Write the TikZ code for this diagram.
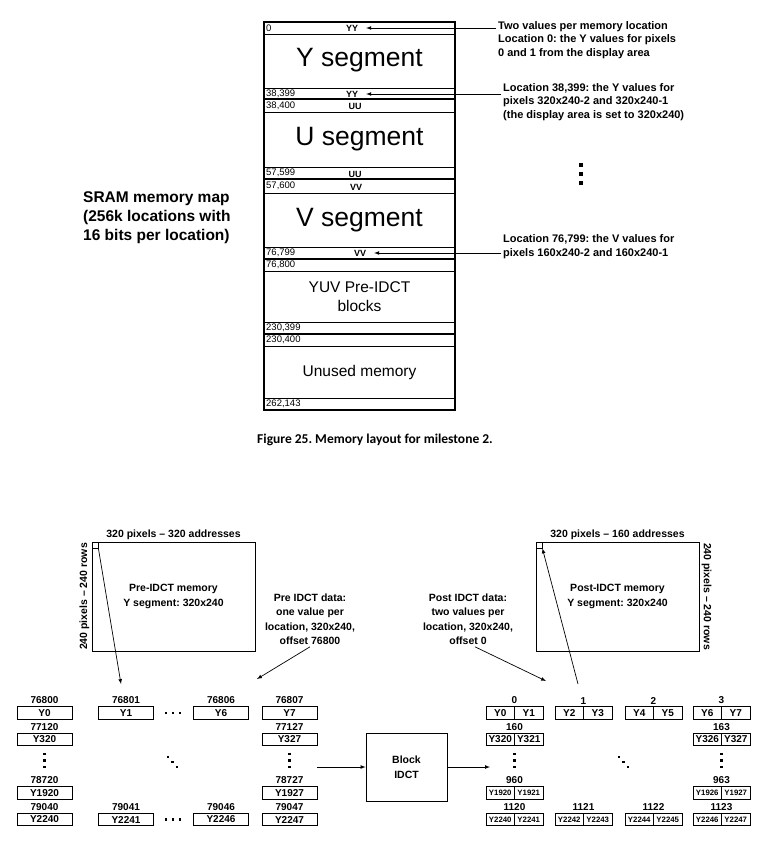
\documentclass[tikz,border=0pt]{standalone}
\usepackage{fontspec}
\setmainfont{Liberation Sans}
\newfontfamily\capfont{Carlito}
\usetikzlibrary{arrows, positioning}
\frenchspacing

\tikzset{
  seg/.style={font=\fontsize{26.5}{30}\selectfont},
  segsm/.style={align=center, font=\fontsize{15.5}{19.5}\selectfont},
  adr/.style={anchor=west, inner sep=1pt, font=\fontsize{9.5}{10}\selectfont},
  pair/.style={inner sep=1pt, font=\bfseries\fontsize{9}{10}\selectfont},
  note/.style={anchor=north west, align=left, inner sep=2pt, font=\bfseries\fontsize{11}{13.5}\selectfont},
  txt/.style={align=center, inner sep=2pt, font=\bfseries\fontsize{10.5}{14.5}\selectfont},
  box/.style={draw, line width=0.8pt},
  cell/.style={box, minimum width=55pt, minimum height=12.5pt, inner sep=0pt, font=\bfseries\fontsize{10}{12}\selectfont},
  half/.style={cell, minimum width=28.5pt, outer sep=0pt},
  halfsm/.style={half, font=\bfseries\fontsize{7.8}{10}\selectfont},
  lbl/.style={inner sep=0pt, font=\bfseries\fontsize{10}{12}\selectfont},
  arr/.style={-latex, line width=0.7pt}
}

\begin{document}
\begin{tikzpicture}[x=1pt, y=-1pt]
\useasboundingbox (0,0) rectangle (763,849);

% memory map
\draw[line width=1.6pt] (264,22) rectangle (455,410);
\foreach \y in {34,88,112,167,193,247,271,322,346,398}
  \draw[line width=0.6pt] (264,\y) -- (455,\y);
\foreach \y in {99,179,259,334}
  \draw[line width=1.6pt] (264,\y) -- (455,\y);
\foreach \y/\t in {28/0, 93.5/{38,399}, 105.5/{38,400}, 173/{57,599}, 186/{57,600},
  253/{76,799}, 265/{76,800}, 328/{230,399}, 340/{230,400}, 404/{262,143}}
  \node[adr] at (265,\y) {\t};
\node[pair] (yy0) at (352,28) {YY};
\node[pair] (yy1) at (352,94) {YY};
\node[pair] (uu0) at (355,106.5) {UU};
\node[pair] (uu1) at (355,174) {UU};
\node[pair] (vv0) at (356,187) {VV};
\node[pair] (vv1) at (360,253) {VV};
\node[seg] (ys) at (359.5,60) {Y segment};
\node[seg] (us) at (359.5,139.5) {U segment};
\node[seg] (vs) at (359.5,220) {V segment};
\node[segsm] (yuv) at (359.5,296.5) {YUV Pre-IDCT\\blocks};
\node[segsm] (un) at (359.5,372) {Unused memory};

\node[anchor=north west, align=left, inner sep=0pt, font=\bfseries\fontsize{15.5}{19}\selectfont] (sram) at (83,191.5)
  {SRAM memory map\\(256k locations with\\16 bits per location)};

\node[note] (n0) at (496,19) {Two values per memory location\\Location 0: the Y values for pixels\\0 and 1 from the display area};
\node[note] (n1) at (501,81) {Location 38,399: the Y values for\\pixels 320x240-2 and 320x240-1\\(the display area is set to 320x240)};
\node[note] (n2) at (501,232.5) {Location 76,799: the V values for\\pixels 160x240-2 and 160x240-1};
\draw[arr] (n0.west |- yy0) -- ([xshift=7pt]yy0.east);
\draw[arr] (n1.west |- yy1) -- ([xshift=7pt]yy1.east);
\draw[arr] (n2.west |- vv1) -- ([xshift=7pt]vv1.east);
\foreach \y in {165,174,183}
  \fill (579.3,\y-1.7) rectangle ++(3.4,3.4);

\node[font=\capfont\bfseries\fontsize{13.5}{15}\selectfont] (cap) at (375,440) {Figure 25. Memory layout for milestone 2.};

% frame buffers
\node[box, minimum width=163pt, minimum height=109pt, txt] (pre) at (173.5,596.5) {Pre-IDCT memory\\Y segment: 320x240};
\node[box, minimum width=163pt, minimum height=109pt, txt] (post) at (617.5,596.5) {Post-IDCT memory\\Y segment: 320x240};
\node[box, minimum size=6pt, inner sep=0pt, anchor=north west] (sq1) at (pre.north west) {};
\node[box, minimum size=6pt, inner sep=0pt, anchor=north west] (sq2) at (post.north west) {};
\node[txt, above=0pt of pre] {320 pixels -- 320 addresses};
\node[txt, above=0pt of post] {320 pixels -- 160 addresses};
\node[txt, rotate=90, anchor=south] at (pre.west) {240 pixels -- 240 rows};
\node[txt, rotate=-90, anchor=south] at (post.east) {240 pixels -- 240 rows};

\node[txt] (pd) at (310,619) {Pre IDCT data:\\one value per\\location, 320x240,\\offset 76800};
\node[txt] (qd) at (468,619) {Post IDCT data:\\two values per\\location, 320x240,\\offset 0};
\coordinate (pa) at (257,679);
\coordinate (qa) at (546,681);
\coordinate (s1) at (121,684);
\coordinate (s2) at (578,684);
\draw[arr] (pd.south) -- (pa);
\draw[arr] ([xshift=7pt]qd.south) -- (qa);
\draw[arr] (sq1.south east) -- (s1);
\draw[arr] (s2) -- (sq2.south east);

% pre-IDCT values
\foreach \x/\y/\a/\v in {44.5/713/76800/Y0, 44.5/739.5/77120/Y320, 44.5/793/78720/Y1920, 44.5/819.5/79040/Y2240,
  126/713/76801/Y1, 126/819.5/79041/Y2241, 221/713/76806/Y6, 221/819.5/79046/Y2246,
  289.5/713/76807/Y7, 289.5/739.5/77127/Y327, 289.5/793/78727/Y1927, 289.5/819.5/79047/Y2247}
{
  \node[cell] (p\a) at (\x,\y) {\v};
  \node[lbl, above=2.5pt of p\a] {\a};
}

% post-IDCT values
\foreach \x/\y/\a/\u/\v in {514.5/713/0/Y0/Y1, 583.5/713/1/Y2/Y3, 653.5/713/2/Y4/Y5, 721.5/713/3/Y6/Y7,
  514.5/739.5/160/Y320/Y321, 721.5/739.5/163/Y326/Y327}
{
  \node[half, anchor=east] (l\a) at (\x,\y) {\u};
  \node[half, anchor=west] (r\a) at (\x,\y) {\v};
  \node[lbl, above=2.5pt of l\a.north east] {\a};
}
\foreach \x/\y/\a/\u/\v in {514.5/793/960/Y1920/Y1921, 721.5/793/963/Y1926/Y1927,
  514.5/819.5/1120/Y2240/Y2241, 583.5/819.5/1121/Y2242/Y2243, 653.5/819.5/1122/Y2244/Y2245, 721.5/819.5/1123/Y2246/Y2247}
{
  \node[halfsm, anchor=east] (l\a) at (\x,\y) {\u};
  \node[halfsm, anchor=west] (r\a) at (\x,\y) {\v};
  \node[lbl, above=2.5pt of l\a.north east] {\a};
}

\foreach \x/\y in {166/713, 173/713, 180/713, 166/819.5, 173/819.5, 180/819.5,
  44.5/754, 44.5/760.5, 44.5/767, 289.5/754, 289.5/760.5, 289.5/767,
  168/757, 172.5/762, 177/767,
  514.5/754, 514.5/760.5, 514.5/767, 721.5/754, 721.5/760.5, 721.5/767,
  619/757, 623.5/762, 628/767}
  \fill (\x-1.3,\y-1.3) rectangle ++(2.6,2.6);

\node[box, minimum width=81pt, minimum height=68pt, txt] (idct) at (406.5,767) {Block\\IDCT};
\coordinate (gl) at (317,767);
\coordinate (gr) at (490,767);
\draw[arr] (gl) -- (idct.west);
\draw[arr] (idct.east) -- (gr);
\end{tikzpicture}
\end{document}
